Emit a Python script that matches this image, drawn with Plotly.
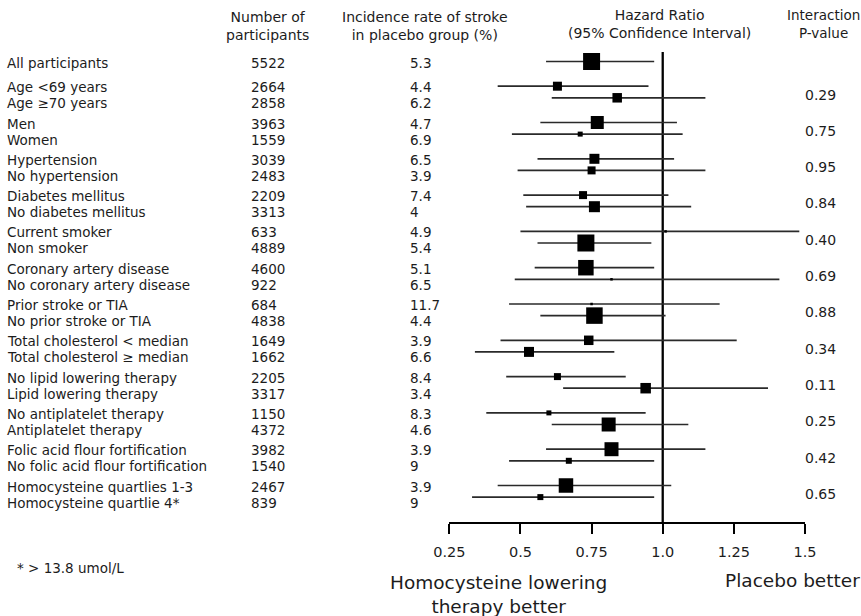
import plotly.graph_objects as go

# ---- subgroup data -------------------------------------------------------
labels = [
    "All participants",
    "Age &lt;69 years", "Age ≥70 years",
    "Men", "Women",
    "Hypertension", "No hypertension",
    "Diabetes mellitus", "No diabetes mellitus",
    "Current smoker", "Non smoker",
    "Coronary artery disease", "No coronary artery disease",
    "Prior stroke or TIA", "No prior stroke or TIA",
    "Total cholesterol &lt; median", "Total cholesterol ≥ median",
    "No lipid lowering therapy", "Lipid lowering therapy",
    "No antiplatelet therapy", "Antiplatelet therapy",
    "Folic acid flour fortification", "No folic acid flour fortification",
    "Homocysteine quartlies 1-3", "Homocysteine quartlie 4*",
]
n_participants = [5522, 2664, 2858, 3963, 1559, 3039, 2483, 2209, 3313, 633, 4889,
                  4600, 922, 684, 4838, 1649, 1662, 2205, 3317, 1150, 4372,
                  3982, 1540, 2467, 839]
incidence_pct = [5.3, 4.4, 6.2, 4.7, 6.9, 6.5, 3.9, 7.4, 4, 4.9, 5.4,
                 5.1, 6.5, 11.7, 4.4, 3.9, 6.6, 8.4, 3.4, 8.3, 4.6,
                 3.9, 9, 3.9, 9]
hazard_ratio = [0.75, 0.63, 0.84, 0.77, 0.71, 0.76, 0.75, 0.72, 0.76, 1.01, 0.73,
                0.73, 0.82, 0.75, 0.76, 0.74, 0.53, 0.63, 0.94, 0.60, 0.81,
                0.82, 0.67, 0.66, 0.57]
ci_low = [0.59, 0.42, 0.61, 0.57, 0.47, 0.56, 0.49, 0.51, 0.52, 0.50, 0.56,
          0.55, 0.48, 0.46, 0.57, 0.43, 0.34, 0.45, 0.65, 0.38, 0.61,
          0.59, 0.46, 0.42, 0.33]
ci_high = [0.97, 0.95, 1.15, 1.05, 1.07, 1.04, 1.15, 1.02, 1.10, 1.48, 0.96,
           0.97, 1.41, 1.20, 1.01, 1.26, 0.83, 0.87, 1.37, 0.94, 1.09,
           1.15, 0.97, 1.03, 0.97]
p_interaction = [0.29, 0.75, 0.95, 0.84, 0.40, 0.69, 0.88, 0.34, 0.11, 0.25, 0.42, 0.65]

x_ticks = [0.25, 0.5, 0.75, 1.0, 1.25, 1.5]
x_tick_text = ["0.25", "0.5", "0.75", "1.0", "1.25", "1.5"]

# ---- styling / layout ----------------------------------------------------
W, H = 861, 616
AXIS_Y = 522                      # pixel row of the x axis line
box_px = [17, 9, 9.5, 13, 5, 10, 8, 8, 11, 2.5, 17, 15.5, 2.5, 2.5, 16.5,
          9.5, 10, 7, 10.5, 5, 14, 14, 6, 14.5, 6]
block_sizes = [1] + [2] * 12      # overall row, then twelve subgroup pairs
FIRST_ROW = 61.5
ROW_STEP = 11.6                   # between the two boxes of a pair
GROUP_STEP = 24.7                 # from one block to the next
TEXT_STEP = 16.0                  # between the two text lines of a pair
FONT = "DejaVu Sans"
INK = "#1c1c1c"

# vertical position of every row, grouped into blocks
row_y, blocks = [], []
y = FIRST_ROW - GROUP_STEP
for size in block_sizes:
    idx = []
    for s in range(size):
        y += GROUP_STEP if s == 0 else ROW_STEP
        row_y.append(y)
        idx.append(len(row_y) - 1)
    blocks.append(idx)

# text line positions: centred a little below each block's boxes
text_y = [0.0] * len(row_y)
for idx in blocks:
    mid = sum(row_y[j] for j in idx) / len(idx)
    if len(idx) == 1:
        text_y[idx[0]] = mid + 1.7
    else:
        text_y[idx[0]] = mid + 3.25 - TEXT_STEP / 2
        text_y[idx[1]] = mid + 3.25 + TEXT_STEP / 2


def px_x(px):
    return px / W


def px_y(px):
    return (AXIS_Y - px) / AXIS_Y


fig = go.Figure()

# line of no effect
fig.add_trace(go.Scatter(
    x=[1.0, 1.0], y=[52, AXIS_Y], mode="lines",
    line=dict(color="black", width=2.3), hoverinfo="skip", showlegend=False,
))

# hazard ratios with 95% confidence intervals
fig.add_trace(go.Scatter(
    x=hazard_ratio, y=row_y, mode="markers",
    marker=dict(symbol="square", size=box_px, color="black", opacity=1,
                line=dict(width=0)),
    error_x=dict(
        type="data", symmetric=False,
        array=[h - m for h, m in zip(ci_high, hazard_ratio)],
        arrayminus=[m - l for m, l in zip(hazard_ratio, ci_low)],
        width=0, thickness=1.7, color="#2a2a2a",
    ),
    hoverinfo="x", showlegend=False,
))

ann = []


def add_text(text, x_px, y_val, size=13.5, anchor="left", yref="y", align="left"):
    ann.append(dict(
        text=text, x=px_x(x_px), y=y_val, xref="paper", yref=yref,
        xanchor=anchor, yanchor="middle", showarrow=False, align=align,
        borderpad=0, font=dict(family=FONT, size=size, color=INK),
    ))


# table columns
for i in range(len(labels)):
    add_text(labels[i], 6, text_y[i])
    add_text(str(n_participants[i]), 249.5, text_y[i])
    add_text(f"{incidence_pct[i]:g}", 408.5, text_y[i])

# interaction p-values, one per subgroup pair
for p, idx in zip(p_interaction, blocks[1:]):
    yc = sum(row_y[j] for j in idx) / len(idx) + 2.5
    add_text(f"{p:.2f}", 804, yc, size=14)

# column headings
add_text("Number of<br>participants", 267.5, px_y(26.5), size=14,
         anchor="center", yref="paper", align="center")
add_text("Incidence rate of stroke<br>in placebo group (%)", 424.5, px_y(26.5),
         size=14, anchor="center", yref="paper", align="center")
add_text("Hazard Ratio<br>(95% Confidence Interval)", 659, px_y(24), size=14,
         anchor="center", yref="paper", align="center")
add_text("Interaction<br>P-value", 823.5, px_y(24), size=13.5,
         anchor="center", yref="paper", align="center")

# footnote and direction labels
add_text("* &gt; 13.8 umol/L", 15.5, px_y(568), yref="paper")
add_text("Homocysteine lowering<br>therapy better", 498, px_y(594), size=18.5,
         anchor="center", yref="paper", align="center")
add_text("Placebo better", 792.5, px_y(580), size=18.5, anchor="center",
         yref="paper", align="center")

fig.update_layout(
    width=W, height=H,
    margin=dict(l=0, r=0, t=0, b=H - AXIS_Y, autoexpand=False),
    paper_bgcolor="white", plot_bgcolor="white",
    annotations=ann,
    xaxis=dict(
        domain=[449.3 / W, 805 / W], range=[0.25, 1.5],
        tickvals=x_ticks, ticktext=x_tick_text,
        showline=True, linecolor="black", linewidth=2,
        ticks="outside", ticklen=10, tickwidth=2, tickcolor="black",
        ticklabelstandoff=6, automargin=False,
        showgrid=False, zeroline=False,
        tickfont=dict(family=FONT, size=14.5, color=INK),
    ),
    yaxis=dict(range=[AXIS_Y, 0], visible=False, showgrid=False, zeroline=False,
               automargin=False),
)

fig.write_html("out.html")
